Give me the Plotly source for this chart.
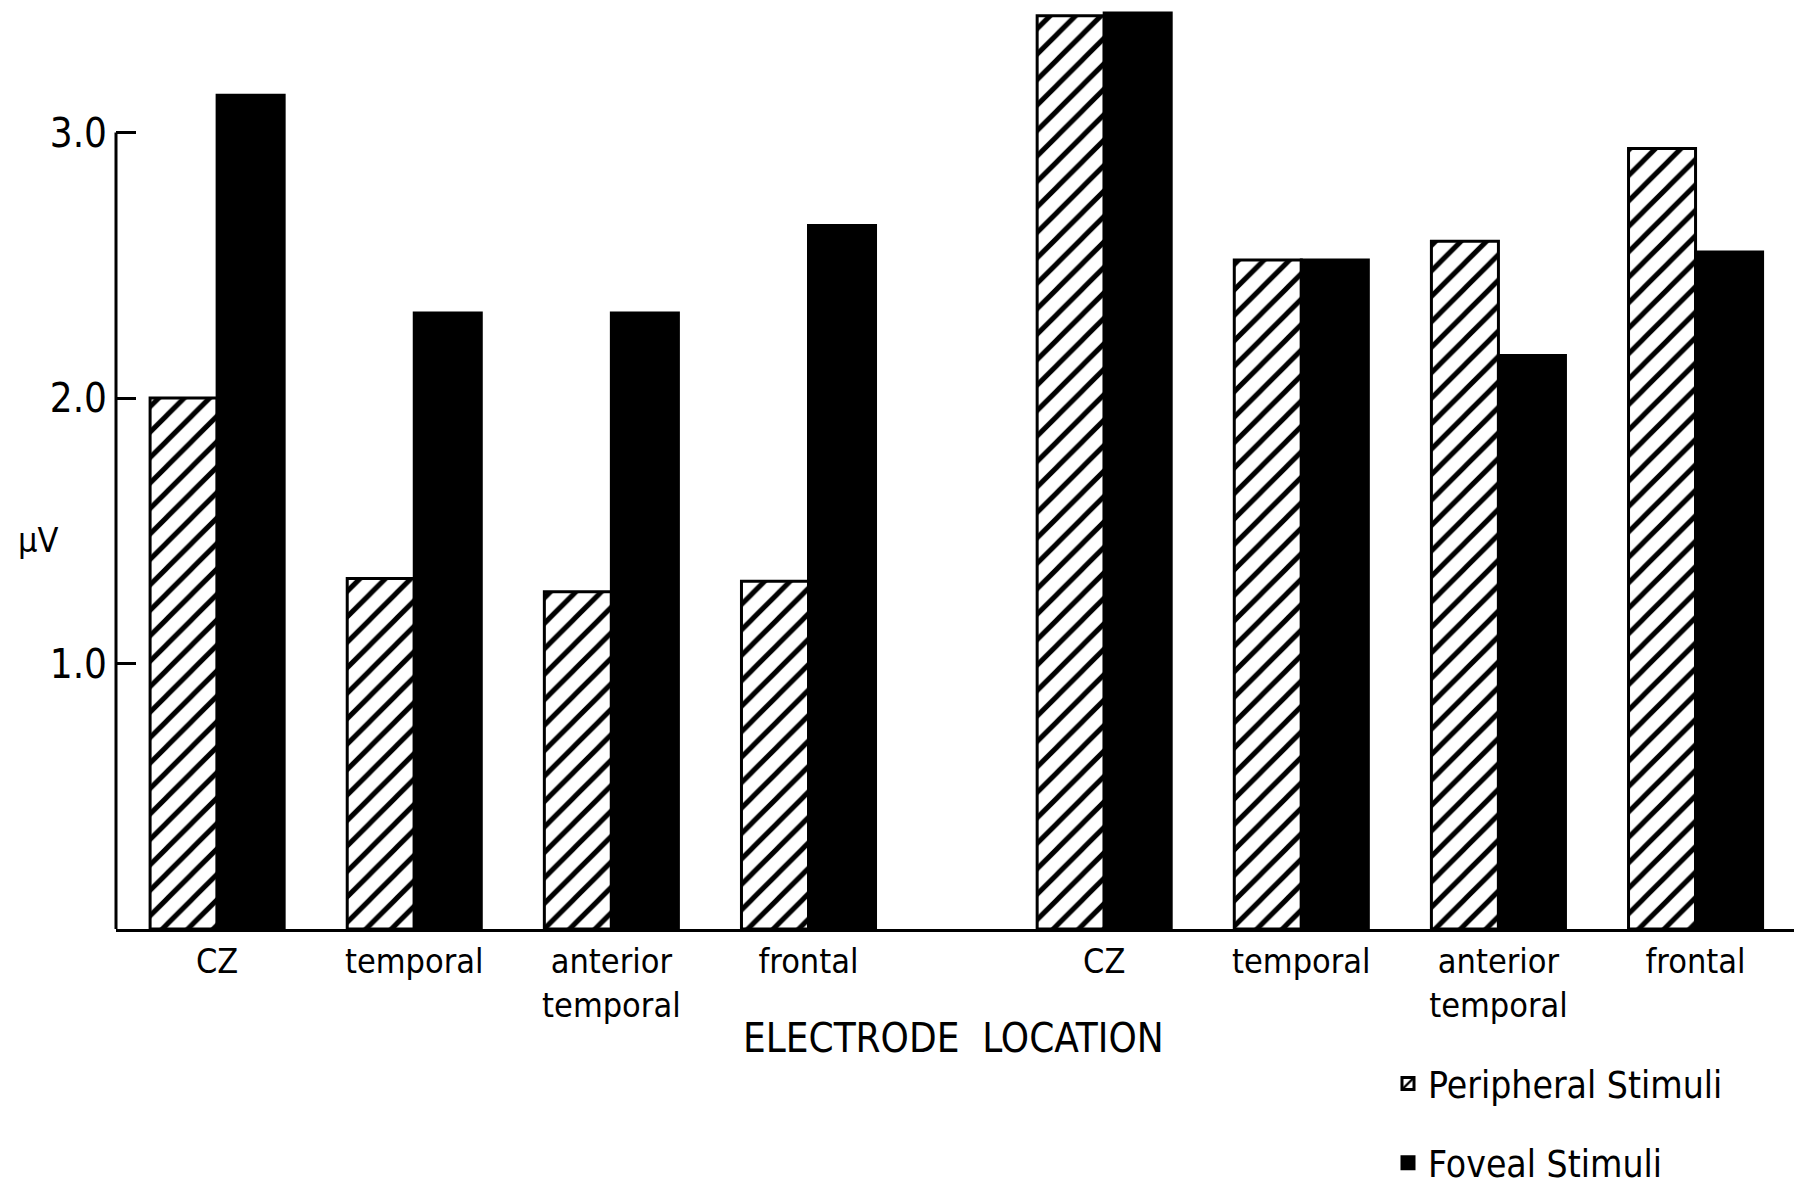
import plotly.graph_objects as go

# Data
categories = ["CZ", "temporal", "anterior<br>temporal", "frontal",
              "CZ", "temporal", "anterior<br>temporal", "frontal"]
x_pos = [0, 1, 2, 3, 4.5, 5.5, 6.5, 7.5]
peripheral = [2.00, 1.32, 1.27, 1.31, 3.44, 2.52, 2.59, 2.94]
foveal = [3.14, 2.32, 2.32, 2.65, 3.45, 2.52, 2.16, 2.55]
y_ticks = [1, 2, 3]
y_ticktext = ["1.0", "2.0", "3.0"]

FONT = "DejaVu Sans Condensed, Liberation Sans Narrow, DejaVu Sans, sans-serif"

L, R, T, B = 108, 8, 0, 272
PW = 1802 - L - R
PH = 1193 - T - B


def px(xf):
    return (xf - L) / PW


def py(yf):
    return (T + PH - yf) / PH


fig = go.Figure()
fig.add_trace(go.Bar(
    x=x_pos, y=peripheral, name="Peripheral Stimuli",
    width=0.34, offset=-0.34,
    marker=dict(color="white",
                line=dict(color="black", width=3),
                pattern=dict(shape="/", size=18, solidity=0.28,
                             fgcolor="black", bgcolor="white", fgopacity=1)),
    legendgroup="p",
))
fig.add_trace(go.Bar(
    x=x_pos, y=foveal, name="Foveal Stimuli",
    width=0.34, offset=0,
    marker=dict(color="black", line=dict(color="black", width=3)),
    legendgroup="f",
))

fig.update_layout(
    width=1802, height=1193,
    margin=dict(l=L, r=R, t=T, b=B, autoexpand=False),
    plot_bgcolor="white", paper_bgcolor="white",
    barmode="overlay",
    font=dict(family=FONT, color="black", size=34),
    showlegend=True,
    legend=dict(x=px(1380), y=py(1045), xanchor="left", yanchor="top",
                xref="paper", yref="paper",
                font=dict(size=37, family=FONT),
                traceorder="grouped", tracegroupgap=28,
                bgcolor="rgba(0,0,0,0)"),
    xaxis=dict(range=[-0.513, 8.04], tickvals=x_pos, ticktext=categories,
               showline=True, linecolor="black", linewidth=3,
               ticks="", showgrid=False, zeroline=False, automargin=False,
               tickfont=dict(size=34, family=FONT)),
    yaxis=dict(range=[0, PH / 265.5], tickvals=y_ticks, ticktext=y_ticktext,
               showline=False, ticks="inside", ticklen=20, tickwidth=3,
               tickcolor="black", showgrid=False, zeroline=False,
               automargin=False, ticklabelstandoff=8,
               tickfont=dict(size=40, family=FONT)),
    shapes=[dict(type="line", xref="paper", yref="y", x0=0, x1=0,
                 y0=0, y1=3, line=dict(color="black", width=3))],
    annotations=[
        dict(text="μV", xref="paper", yref="paper", x=px(30), y=py(532),
             xanchor="center", yanchor="middle", showarrow=False,
             font=dict(size=34, family=FONT)),
        dict(text="ELECTRODE  LOCATION", xref="paper", yref="paper",
             x=px(945), y=py(1030),
             xanchor="center", yanchor="middle", showarrow=False,
             font=dict(size=40, family=FONT)),
    ],
)

fig.write_html("out.html")
